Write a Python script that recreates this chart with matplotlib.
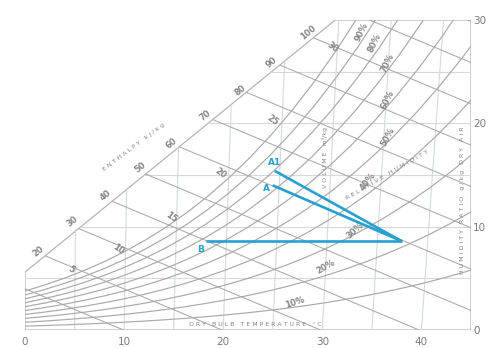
import matplotlib.pyplot as plt
import numpy as np
from matplotlib.patches import Polygon

P_ATM = 101.325          # kPa
SKEW = 0.00185           # dry-bulb lines lean right as humidity rises

# saturation vapour pressure of water (kPa) against dry-bulb temperature (deg C)
sat_temp = [0, 2, 4, 6, 8, 10, 12, 14, 16, 18, 20, 22, 24,
            26, 28, 30, 32, 34, 36, 38, 40, 42, 44, 46]
sat_press = [0.6113, 0.7060, 0.8135, 0.9353, 1.0729, 1.2281, 1.4027, 1.5988,
             1.8185, 2.0644, 2.3388, 2.6447, 2.9850, 3.3629, 3.7818, 4.2455,
             4.7578, 5.3229, 5.9453, 6.6298, 7.3814, 8.2054, 9.1075, 10.094]

rh_levels = [10, 20, 30, 40, 50, 60, 70, 80, 90, 100]
rh_label_text = ["10%", "20%", "30%", "40%", "50%", "60%", "70%", "80%", "90%"]
rh_label_x = [27.2, 30.3, 33.3, 34.6, 36.6, 36.6, 36.6, 35.3, 34.0]
rh_label_w = [2.7, 6.1, 9.6, 14.4, 18.7, 22.3, 25.8, 27.8, 28.8]
rh_label_rot = [18, 30, 42, 52, 62, 64, 64, 64, 64]

enthalpy_levels = [10, 20, 30, 40, 50, 60, 70, 80, 90, 100, 110, 120]
enthalpy_label_text = ["20", "30", "40", "50", "60", "70", "80", "90", "100"]
enthalpy_label_x = [1.3, 4.8, 8.1, 11.6, 14.8, 18.2, 21.7, 24.9, 28.6]
enthalpy_label_w = [7.6, 10.5, 13.0, 15.7, 18.1, 20.8, 23.2, 25.9, 28.8]

wet_bulb_text = ["5", "10", "15", "20", "25", "30"]
wet_bulb_x = [4.7, 9.4, 14.8, 19.7, 25.0, 31.0]
wet_bulb_w = [5.8, 7.8, 10.9, 15.2, 20.3, 27.4]

db_grid = [5, 10, 15, 20, 25, 30, 35, 40]
w_grid = [5, 10, 15, 20, 25]
db_ticks = [0, 10, 20, 30, 40]
w_ticks = [0, 10, 20, 30]

# chart outline: bottom, right edge, top edge, enthalpy scale, left edge
outline_x = [0, 45, 45, 31.3, 0]
outline_w = [0, 0, 30, 30, 5.6]

# process lines drawn on the chart
state_names = ["A1", "A", "B"]
state_x = [25.2, 25.0, 18.3]
state_w = [15.4, 14.0, 8.6]
state_label_x = [25.2, 24.4, 17.7]
state_label_w = [16.2, 13.7, 7.8]
mix_x = 38.0
mix_w = 8.6

GRID = "#d3d9de"
CURVE = "#a9a9a9"
TEXT = "#858585"
BLUE = "#26a0cf"

fig = plt.figure(figsize=(4.89, 3.48), dpi=100)
ax = fig.add_axes([25 / 489, 18 / 348, 446 / 489, 310 / 348])
ax.set_xlim(0, 45)
ax.set_ylim(0, 30)
for side in ax.spines.values():
    side.set_visible(False)

clip = Polygon(list(zip(outline_x, outline_w)), closed=True, transform=ax.transData)
ax.add_patch(Polygon(list(zip(outline_x, outline_w)), closed=True, fill=False,
                     edgecolor="#b5b5b5", linewidth=0.9))


def clipped(xs, ws, **style):
    line, = ax.plot(xs, ws, **style)
    line.set_clip_path(clip)


for t in db_grid:
    clipped([t, t * (1 + SKEW * 30)], [0, 30], color=GRID, linewidth=0.8)
for w in w_grid:
    clipped([0, 45], [w, w], color=GRID, linewidth=0.8)

temps = np.array(sat_temp, dtype=float)
press = np.array(sat_press)
for rh in rh_levels:
    pv = rh / 100 * press
    w = 622 * pv / (P_ATM - pv)
    clipped(temps * (1 + SKEW * w), w, color=CURVE, linewidth=0.85)

for h in enthalpy_levels:
    xs = np.array([0, 45])
    clipped(xs, (h - 1.006 * xs) / 2.501, color=CURVE, linewidth=0.75)

label_style = dict(color=TEXT, fontsize=6, fontweight="bold", ha="center", va="center")
for text, x, w, rot in zip(rh_label_text, rh_label_x, rh_label_w, rh_label_rot):
    ax.text(x, w, text, rotation=rot, **label_style)
for text, x, w in zip(enthalpy_label_text, enthalpy_label_x, enthalpy_label_w):
    ax.text(x, w, text, rotation=39, **label_style)
for text, x, w in zip(wet_bulb_text, wet_bulb_x, wet_bulb_w):
    ax.text(x, w, text, rotation=-35, **label_style)

small = dict(color=TEXT, fontsize=4.5, ha="center", va="center")
ax.text(11.0, 17.7, "E N T H A L P Y   k J / k g", rotation=37, **small)
ax.text(23.2, 0.55, "D R Y   B U L B   T E M P E R A T U R E   ° C", **small)
ax.text(44.1, 12.6, "H U M I D I T Y   R A T I O   g / k g   D R Y   A I R", rotation=90, **small)
ax.text(30.3, 16.7, "V O L U M E   m³/kg", rotation=90, **small)
ax.text(36.6, 15.0, "R E L A T I V E   H U M I D I T Y", rotation=30, **small)

for x, w in zip(state_x, state_w):
    ax.plot([x, mix_x], [w, mix_w], color=BLUE, linewidth=1.9, solid_capstyle="butt")
for name, x, w in zip(state_names, state_label_x, state_label_w):
    ax.text(x, w, name, color=BLUE, fontsize=6.5, fontweight="bold", ha="center", va="center")

ax.set_xticks(db_ticks)
ax.set_yticks(w_ticks)
ax.yaxis.tick_right()
ax.tick_params(axis="both", length=0, labelsize=7.5, labelcolor="#7a7a7a")
ax.tick_params(axis="x", pad=5)
ax.tick_params(axis="y", pad=1.5)

fig.savefig("out.png", dpi=100)
